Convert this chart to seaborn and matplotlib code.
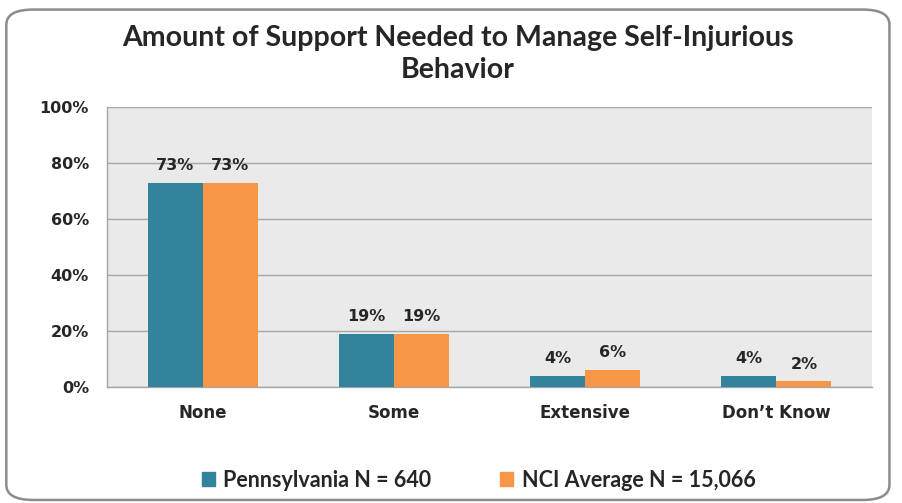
import pandas as pd
import seaborn as sns
import matplotlib.pyplot as plt
import matplotlib.patches as mpatches
from matplotlib.ticker import FuncFormatter

categories = ["None", "Some", "Extensive", "Don\u2019t Know"]
series = ["Pennsylvania N = 640", "NCI Average N = 15,066"]
pennsylvania = [73, 19, 4, 4]
nci_average = [73, 19, 6, 2]
y_ticks = [0, 20, 40, 60, 80, 100]

df = pd.DataFrame({
    "category": categories * 2,
    "series": [series[0]] * 4 + [series[1]] * 4,
    "value": pennsylvania + nci_average,
})

sns.set_style("white")
plt.rcParams["font.family"] = ["DejaVu Sans"]

fig = plt.figure(figsize=(9.03, 5.03), dpi=100)
ax = fig.add_axes([0.1185, 0.2306, 0.8472, 0.5567])

colors = ["#31849B", "#F79646"]
sns.barplot(
    data=df, x="category", y="value", hue="series",
    order=categories, hue_order=series,
    palette=colors, width=0.575, saturation=1, linewidth=0,
    ax=ax, legend=False, zorder=3,
)

ax.set_facecolor("#EAEAEA")
ax.set_ylim(0, 100)
ax.set_xlim(-0.5, 3.5)
ax.set_yticks(y_ticks)
ax.yaxis.set_major_formatter(FuncFormatter(lambda v, p: f"{v:.0f}%"))
ax.grid(axis="y", color="#A6A6A6", linewidth=1, zorder=0)
ax.set_axisbelow(True)
ax.set_xlabel("")
ax.set_ylabel("")

for s in ["top", "right"]:
    ax.spines[s].set_visible(False)
for s in ["left", "bottom"]:
    ax.spines[s].set_color("#A6A6A6")
    ax.spines[s].set_linewidth(1)

ax.tick_params(axis="y", length=7, color="#A6A6A6", labelsize=11.5, pad=6)
ax.tick_params(axis="x", length=0, labelsize=12, pad=12)
for lbl in ax.get_yticklabels() + ax.get_xticklabels():
    lbl.set_fontweight("bold")

for cont in ax.containers:
    ax.bar_label(cont, labels=[f"{v:.0f}%" for v in cont.datavalues],
                 padding=7, fontsize=11.5, fontweight="bold")

fig.text(0.507, 0.893, "Amount of Support Needed to Manage Self-Injurious\nBehavior",
         ha="center", va="center", fontsize=20.5, fontweight="bold",
         family="Lato", linespacing=1.3)

handles = [mpatches.Patch(color=c, label=s) for c, s in zip(colors, series)]
fig.legend(handles=handles, loc="center", bbox_to_anchor=(0.53, 0.045), ncol=2,
           frameon=False, columnspacing=3.2, handlelength=0.6, handleheight=0.6,
           handletextpad=0.4, prop={"family": "Lato", "weight": "bold", "size": 15.5})

border = mpatches.FancyBboxPatch((0.007, 0.006), 0.978, 0.975,
                                 boxstyle="round,pad=0,rounding_size=0.03",
                                 transform=fig.transFigure, fill=False,
                                 edgecolor="#8C8C8C", linewidth=1.8)
fig.patches.append(border)

fig.savefig("out.png", dpi=100)
